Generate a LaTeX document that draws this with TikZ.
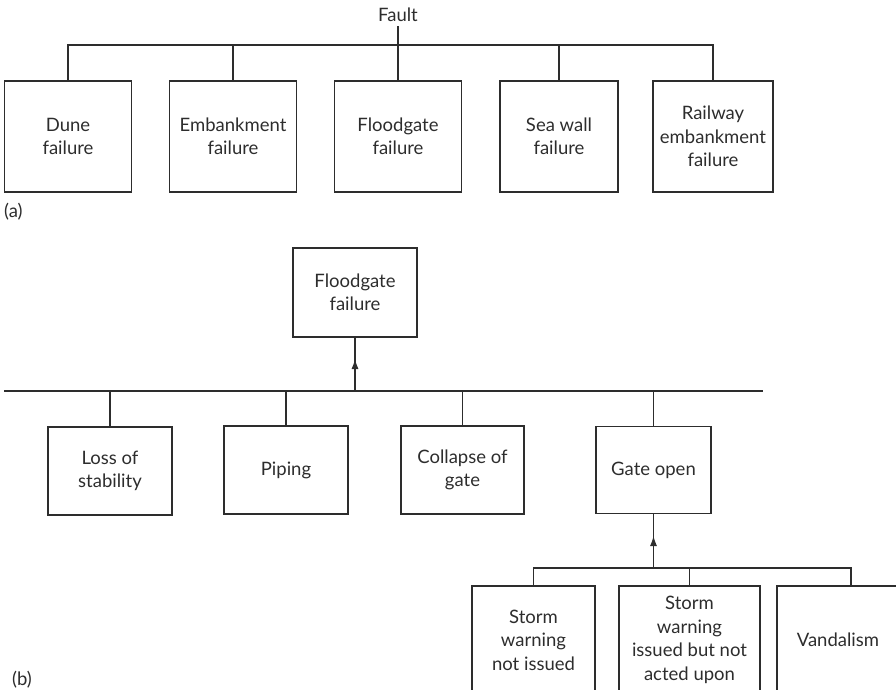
\documentclass[tikz,border=0pt]{standalone}
\usepackage{fontspec}
\setmainfont{Lato}
\usetikzlibrary{positioning, arrows.meta, calc}
\definecolor{treeink}{RGB}{45, 45, 45}
\tikzset{
  event/.style={
    draw=treeink,
    line width=1.1pt,
    align=center,
    inner sep=2pt,
    font=\fontsize{18.5}{23.5}\selectfont\color{treeink}
  },
  link/.style={
    draw=treeink,
    line width=1.1pt
  },
  uplink/.style={
    link,
    -{Latex[length=10pt,width=7pt]}
  },
  tag/.style={
    inner sep=2pt,
    font=\fontsize{18.5}{23.5}\selectfont\color{treeink}
  }
}

\begin{document}
\begin{tikzpicture}[x=1pt, y=-1pt]
  \useasboundingbox (0,0) rectangle (896,689);

  % (a)
  \node[tag, inner sep=4pt] (fault) at (398,15) {Fault};
  \node[event, minimum width=127pt, minimum height=111pt] (dune) at (68,136.5) {Dune\\failure};
  \node[event, minimum width=127pt, minimum height=111pt] (embank) at (233,136.5) {Embankment\\failure};
  \node[event, minimum width=127pt, minimum height=111pt] (flood) at (398,136.5) {Floodgate\\failure};
  \node[event, minimum width=118pt, minimum height=111pt] (seawall) at (559,136.5) {Sea wall\\failure};
  \node[event, minimum width=120pt, minimum height=111pt] (railway) at (713,136.5) {Railway\\embankment\\failure};
  \node[tag, anchor=west, inner sep=0pt] (parta) at (4,212) {(a)};
  \coordinate (busa) at (0,45);

  \draw[link] (fault.south) -- (flood.north);
  \draw[link] (dune.north) |- (busa -| railway.north) -- (railway.north);
  \draw[link] (embank.north) -- (embank.north |- busa);
  \draw[link] (seawall.north) -- (seawall.north |- busa);

  % (b)
  \node[event, minimum width=124pt, minimum height=89pt] (top) at (355,292.5) {Floodgate\\failure};
  \node[event, minimum width=124pt, minimum height=88pt] (loss) at (110,471) {Loss of\\stability};
  \node[event, minimum width=124pt, minimum height=88pt] (piping) at (286,470) {Piping};
  \node[event, minimum width=123pt, minimum height=88pt] (collapse) at (462.5,470) {Collapse of\\gate};
  \node[event, minimum width=115pt, minimum height=87pt] (gate) at (653.5,470) {Gate open};
  \node[event, minimum width=123pt, minimum height=108pt] (noissue) at (533.5,640) {Storm\\warning\\not issued};
  \node[event, minimum width=141pt, minimum height=108pt] (noact) at (689.5,640) {Storm\\warning\\issued but not\\acted upon};
  \node[event, minimum width=122pt, minimum height=108pt] (vandal) at (838,640) {Vandalism};
  \node[tag, anchor=west, inner sep=0pt] (partb) at (12,680) {(b)};
  \coordinate (busbl) at (4,391);
  \coordinate (busbr) at (763,391);
  \coordinate (busc) at (851,568);

  \draw[link] (busbl) -- (busbr);
  \draw[link] (top.south) -- (top.south |- busbl);
  \draw[uplink] (top.south |- busbl) -- ++(0,-32);
  \foreach \n in {loss, piping, collapse, gate}
    \draw[link] (\n.north) -- (\n.north |- busbl);

  \draw[link] (gate.south) -- (gate.south |- busc);
  \draw[uplink] (gate.south |- busc) -- ++(0,-32);
  \draw[link] (noissue.north) |- (busc) -- (busc |- vandal.north);
  \draw[link] (noact.north) -- (noact.north |- busc);
\end{tikzpicture}
\end{document}
